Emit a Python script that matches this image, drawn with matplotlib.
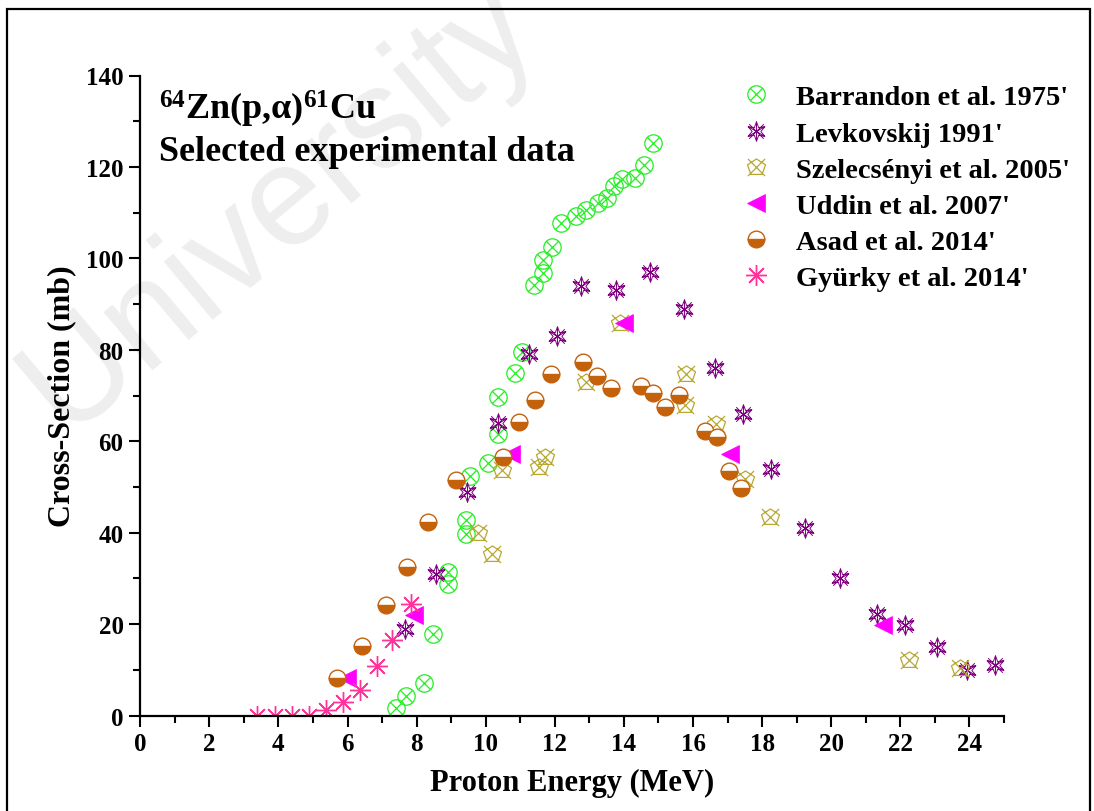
import numpy as np
import matplotlib
matplotlib.use("Agg")
import matplotlib.pyplot as plt
from matplotlib.path import Path
from matplotlib.patches import Rectangle
from matplotlib.ticker import MultipleLocator

plt.rcParams["font.family"] = ["Liberation Serif", "DejaVu Serif"]
plt.rcParams["font.weight"] = "bold"
plt.rcParams["mathtext.fontset"] = "custom"
plt.rcParams["mathtext.rm"] = "Liberation Serif:bold"
plt.rcParams["mathtext.it"] = "Liberation Serif:bold"
plt.rcParams["mathtext.bf"] = "Liberation Serif:bold"
plt.rcParams["mathtext.default"] = "rm"

# ---- data: proton energy (MeV) and cross-section (mb) ----
barrandon_e = [7.41, 7.68, 8.21, 8.46, 8.91, 8.91, 9.42, 9.42, 9.54, 10.07,
               10.35, 10.35, 10.86, 11.06, 11.39, 11.67, 11.67, 11.93, 12.19, 12.62,
               12.91, 13.25, 13.52, 13.71, 13.95, 14.31, 14.59, 14.84]
barrandon_xs = [1.7, 4.3, 7.1, 17.9, 28.8, 31.5, 39.7, 42.7, 52.5, 55.3,
                61.6, 69.7, 75.0, 79.6, 94.2, 96.9, 99.6, 102.4, 107.8, 109.3,
                110.5, 112.2, 113.1, 115.8, 117.4, 117.6, 120.4, 125.3]

levkovskij_e = [7.65, 8.55, 9.47, 10.36, 11.25, 12.05, 12.76, 13.76, 14.75, 15.75,
                16.65, 17.45, 18.26, 19.25, 20.24, 21.33, 22.14, 23.05, 23.94, 24.73]
levkovskij_xs = [19.0, 31.0, 49.0, 64.0, 79.1, 83.1, 94.0, 93.0, 97.1, 89.0,
                 76.1, 66.0, 53.9, 41.0, 30.1, 22.1, 19.9, 15.0, 9.9, 11.0]

szelecsenyi_e = [9.78, 10.19, 10.48, 11.54, 11.73, 12.89, 13.90, 15.76, 15.81, 16.67,
                 17.51, 18.24, 22.24, 23.73]
szelecsenyi_xs = [39.9, 35.4, 53.6, 54.3, 56.5, 72.9, 85.8, 68.0, 74.7, 63.8,
                  51.8, 43.4, 12.1, 10.5]

uddin_e = [5.98, 7.92, 10.72, 13.99, 17.08, 21.50]
uddin_xs = [8.3, 21.9, 57.2, 85.8, 57.2, 19.7]

asad_e = [5.69, 6.43, 7.10, 7.73, 8.33, 9.13, 10.50, 10.96, 11.42, 11.89,
          12.82, 13.22, 13.63, 14.48, 14.84, 15.20, 15.59, 16.34, 16.70, 17.05, 17.40]
asad_xs = [8.2, 15.1, 24.2, 32.5, 42.4, 51.5, 56.5, 64.1, 69.1, 74.7,
           77.4, 74.3, 71.6, 72.1, 70.5, 67.4, 70.1, 62.2, 60.9, 53.4, 49.8]

gyurky_e = [3.39, 3.90, 4.38, 4.89, 5.37, 5.87, 6.36, 6.84, 7.28, 7.84]
gyurky_xs = [0.0, 0.0, 0.0, 0.0, 1.2, 3.0, 5.5, 10.9, 16.6, 24.3]

labels = ["Barrandon et al. 1975'", "Levkovskij 1991'", "Szelecsényi et al. 2005'",
          "Uddin et al. 2007'", "Asad et al. 2014'", "Gyürky et al. 2014'"]


# ---- custom open markers ----
M, L = Path.MOVETO, Path.LINETO


def cross_path(r):
    return Path([(-r, -r), (r, r), (-r, r), (r, -r)], [M, L, M, L])


def circle_cross():
    return Path.make_compound_path(Path.unit_circle(), cross_path(np.sqrt(0.5)))


def star_cross():
    star = Path.unit_regular_star(6, 0.45)
    spokes = Path([(0, -1), (0, 1), (-0.85, -0.5), (0.85, 0.5), (-0.85, 0.5), (0.85, -0.5)],
                  [M, L, M, L, M, L])
    return Path.make_compound_path(star, spokes, cross_path(0.75))


def pentagon_cross():
    ang = np.deg2rad(90 + 72 * np.arange(5))
    verts = list(zip(np.cos(ang), np.sin(ang) * 0.9)) + [(0, 0)]
    pent = Path(verts, [M, L, L, L, L, Path.CLOSEPOLY])
    return Path.make_compound_path(pent, cross_path(0.9))


fig = plt.figure(figsize=(10.94, 8.12), dpi=100)

# watermark behind the plot
fig.text(0.255, 0.745, "University", rotation=40, fontsize=102, color="#eeeeee",
         family="Liberation Sans", fontweight="normal", ha="center", va="center",
         zorder=-1)

# outer frame
fig.patches.append(Rectangle((7 / 1094, -0.02), (1090 - 7) / 1094, 1.02 - 10 / 812,
                             transform=fig.transFigure, fill=False, edgecolor="black",
                             linewidth=1.6, zorder=5))

ax = fig.add_axes([140.2 / 1094, 1 - 716.5 / 812, (1004 - 140.2) / 1094, (716.5 - 76.5) / 812])
ax.set_facecolor("none")

ax.plot(barrandon_e, barrandon_xs, ls="none", marker=circle_cross(), ms=12.5,
        mfc="none", mec="#22ee22", mew=0.9, label=labels[0])
ax.plot(levkovskij_e, levkovskij_xs, ls="none", marker=star_cross(), ms=14,
        mfc="none", mec="#800080", mew=0.7, label=labels[1])
ax.plot(szelecsenyi_e, szelecsenyi_xs, ls="none", marker=pentagon_cross(), ms=13,
        mfc="none", mec="#b8a832", mew=0.9, label=labels[2])
ax.plot(uddin_e, uddin_xs, ls="none", marker="<", ms=12.5, mfc="#ff00ff",
        mec="#ff00ff", mew=0.5, label=labels[3])
ax.plot(asad_e, asad_xs, ls="none", marker="o", ms=12, fillstyle="bottom",
        mfc="#c4620c", mfcalt="white", mec="#c4620c", mew=1.0, label=labels[4])
ax.plot(gyurky_e, gyurky_xs, ls="none", marker=(8, 2, 0), ms=15,
        mec="#ff3399", mew=1.0, label=labels[5])

ax.set_xlim(0, 25)
ax.set_ylim(0, 140)
ax.xaxis.set_minor_locator(MultipleLocator(1))
ax.yaxis.set_major_locator(MultipleLocator(20))
ax.yaxis.set_minor_locator(MultipleLocator(10))
ax.set_xticks(np.arange(0, 25, 2))

for side in ("top", "right"):
    ax.spines[side].set_visible(False)
for side in ("left", "bottom"):
    ax.spines[side].set_linewidth(1.6)

ax.tick_params(which="major", direction="out", length=8, width=1.5, labelsize=18, pad=4)
ax.tick_params(which="minor", direction="out", length=5, width=1.5)
for lab in ax.get_xticklabels() + ax.get_yticklabels():
    lab.set_fontweight("bold")

ax.set_xlabel("Proton Energy (MeV)", fontsize=22, fontweight="bold", labelpad=9)
ax.set_ylabel("Cross-Section (mb)", fontsize=23, fontweight="bold", labelpad=7)

ax.text(0.022, 0.932, r"$^{64}$Zn(p,$\alpha$)$^{61}$Cu", transform=ax.transAxes,
        fontsize=26, fontweight="bold", va="baseline")
ax.text(0.022, 0.868, "Selected experimental data", transform=ax.transAxes,
        fontsize=26, fontweight="bold", va="baseline")

leg = ax.legend(loc="upper left", bbox_to_anchor=(0.696, 0.986), frameon=False,
                fontsize=20.5, handlelength=1.0, handletextpad=0.9, labelspacing=0.36,
                borderpad=0, borderaxespad=0, markerscale=1.0, numpoints=1)
for t in leg.get_texts():
    t.set_fontweight("bold")

fig.savefig("out.png", dpi=100)
